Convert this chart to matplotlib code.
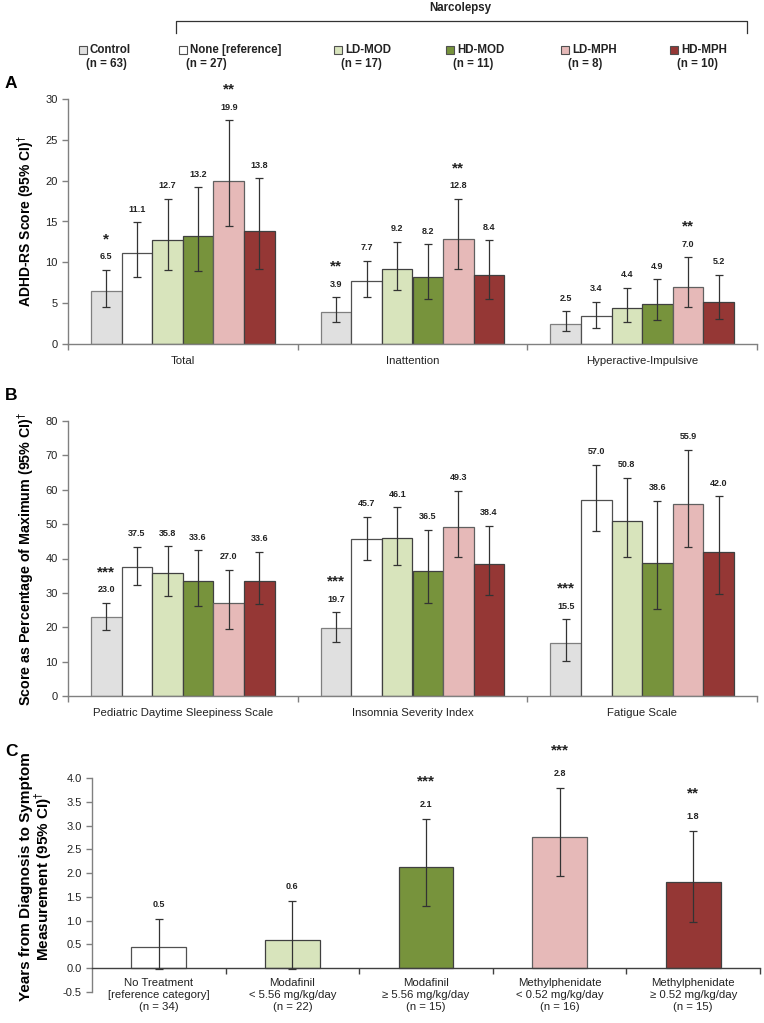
import numpy as np
import matplotlib
matplotlib.use('Agg')
import matplotlib.pyplot as plt
from matplotlib.patches import Rectangle
from matplotlib.lines import Line2D

plt.rcParams['font.family'] = ['Liberation Sans Narrow', 'Liberation Sans', 'DejaVu Sans']

# groups shown in panels A and B
groups = ['Control', 'None [reference]', 'LD-MOD', 'HD-MOD', 'LD-MPH', 'HD-MPH']
group_n = ['(n = 63)', '(n = 27)', '(n = 17)', '(n = 11)', '(n = 8)', '(n = 10)']
group_colors = ['#e0e0e0', '#ffffff', '#d8e4bc', '#77933c', '#e6b9b8', '#953735']
group_edges = ['#7f7f7f', '#505050', '#404040', '#404040', '#606060', '#404040']

# panel A: ADHD-RS
adhd_cats = ['Total', 'Inattention', 'Hyperactive-Impulsive']
adhd_mean = [[6.5, 11.1, 12.7, 13.2, 19.9, 13.8],
             [3.9, 7.7, 9.2, 8.2, 12.8, 8.4],
             [2.5, 3.4, 4.4, 4.9, 7.0, 5.2]]
adhd_lo = [[4.5, 8.2, 9.0, 8.9, 14.4, 9.2],
           [2.65, 5.7, 6.6, 5.5, 9.2, 5.5],
           [1.55, 2.0, 2.65, 2.9, 4.5, 3.0]]
adhd_hi = [[9.1, 14.9, 17.8, 19.2, 27.4, 20.3],
           [5.7, 10.2, 12.5, 12.2, 17.8, 12.7],
           [4.0, 5.2, 6.9, 7.9, 10.6, 8.5]]
adhd_sig = [['*', '', '', '', '**', ''],
            ['**', '', '', '', '**', ''],
            ['', '', '', '', '**', '']]

# panel B: sleep scales
sleep_cats = ['Pediatric Daytime Sleepiness Scale', 'Insomnia Severity Index', 'Fatigue Scale']
sleep_mean = [[23.0, 37.5, 35.8, 33.6, 27.0, 33.6],
              [19.7, 45.7, 46.1, 36.5, 49.3, 38.4],
              [15.5, 57.0, 50.8, 38.6, 55.9, 42.0]]
sleep_lo = [[19.3, 32.2, 29.2, 26.3, 19.6, 26.7],
            [15.8, 39.7, 38.2, 27.2, 40.3, 29.5],
            [10.1, 48.0, 40.4, 25.3, 43.3, 29.7]]
sleep_hi = [[27.1, 43.4, 43.5, 42.4, 36.8, 41.9],
            [24.3, 52.2, 54.9, 48.3, 59.6, 49.5],
            [22.3, 67.2, 63.4, 56.7, 71.6, 58.1]]
sleep_sig = [['***', '', '', '', '', ''],
             ['***', '', '', '', '', ''],
             ['***', '', '', '', '', '']]

# panel C: years from diagnosis
treat_labels = ['No Treatment\n[reference category]\n(n = 34)',
                'Modafinil\n< 5.56 mg/kg/day\n(n = 22)',
                'Modafinil\n\u2265 5.56 mg/kg/day\n(n = 15)',
                'Methylphenidate\n< 0.52 mg/kg/day\n(n = 16)',
                'Methylphenidate\n\u2265 0.52 mg/kg/day\n(n = 15)']
years = [0.45, 0.59, 2.12, 2.76, 1.81]
years_lo = [-0.01, -0.02, 1.30, 1.93, 0.98]
years_hi = [1.04, 1.41, 3.13, 3.78, 2.89]
years_sig = ['', '', '***', '***', '**']
treat_colors = ['#ffffff', '#d8e4bc', '#77933c', '#e6b9b8', '#953735']
treat_edges = ['#505050', '#404040', '#404040', '#606060', '#404040']

W, H = 764, 1023
def fx(px):
    return px / W
def fy(py):
    return 1 - py / H
def box(l, t, r, b):
    return [fx(l), fy(b), fx(r) - fx(l), fy(t) - fy(b)]

AXC = '#808080'
ERR = '#333333'
TXT = '#222222'

fig = plt.figure(figsize=(W / 100, H / 100), dpi=100)


def style_axes(ax):
    for s in ['top', 'right']:
        ax.spines[s].set_visible(False)
    for s in ['left', 'bottom']:
        ax.spines[s].set_color(AXC)
        ax.spines[s].set_linewidth(1.0)
    ax.tick_params(axis='both', which='major', colors=AXC, length=4, width=1.0,
                   labelcolor=TXT, labelsize=8)


def value_labels(ax, x, m, hi, sig, off_val, off_sig):
    for i in range(len(m)):
        ax.annotate('{:.1f}'.format(m[i]), (x[i], hi[i]), xytext=(0, off_val),
                    textcoords='offset points', ha='center', va='center',
                    fontsize=6.5, fontweight='bold', color=TXT)
        if sig[i]:
            ax.annotate(sig[i], (x[i], hi[i]), xytext=(0, off_sig),
                        textcoords='offset points', ha='center', va='center',
                        fontsize=11, fontweight='bold', color=TXT)


def grouped_panel(ax, cats, mean, lo, hi, sig, ymax, ystep, ylabel, lab_x, lab_size):
    w = 0.8 / len(groups)
    for c in range(len(cats)):
        m = np.array(mean[c])
        x = c + (np.arange(len(groups)) - (len(groups) - 1) / 2) * w
        ax.bar(x, m, width=w, color=group_colors, edgecolor=group_edges, linewidth=0.9, zorder=2)
        yerr = [m - np.array(lo[c]), np.array(hi[c]) - m]
        ax.errorbar(x, m, yerr=yerr, fmt='none', ecolor=ERR, elinewidth=0.9,
                    capsize=3, capthick=0.9, zorder=3)
        value_labels(ax, x, m, hi[c], sig[c], 9.5, 22)
    ax.set_xlim(-0.5, len(cats) - 0.5)
    ax.set_ylim(0, ymax)
    ax.set_yticks(np.arange(0, ymax + 0.01, ystep))
    ax.set_xticks(np.arange(-0.5, len(cats)))
    ax.set_xticklabels([])
    ax.set_xticks(range(len(cats)), minor=True)
    ax.set_xticklabels(cats, minor=True)
    style_axes(ax)
    ax.tick_params(axis='x', which='minor', length=0, pad=9, labelsize=8.2, labelcolor=TXT)
    ax.set_ylabel(ylabel, fontsize=lab_size, fontweight='bold')
    ax.yaxis.set_label_coords(lab_x, 0.5)


# Panel A
axA = fig.add_axes(box(68, 99, 757, 344))
grouped_panel(axA, adhd_cats, adhd_mean, adhd_lo, adhd_hi, adhd_sig, 30, 5,
              'ADHD-RS Score (95% CI)$^{\\dagger}$', (37 - 68) / 689, 10)

# Panel B
axB = fig.add_axes(box(68, 421, 757, 696))
grouped_panel(axB, sleep_cats, sleep_mean, sleep_lo, sleep_hi, sleep_sig, 80, 10,
              'Score as Percentage of Maximum (95% CI)$^{\\dagger}$', (37 - 68) / 689, 10.3)

# Panel C
axC = fig.add_axes(box(92, 778, 760, 992))
xc = np.arange(len(years))
yv = np.array(years)
axC.bar(xc, yv, width=0.41, color=treat_colors, edgecolor=treat_edges, linewidth=0.9, zorder=2)
axC.errorbar(xc, yv, yerr=[yv - np.array(years_lo), np.array(years_hi) - yv], fmt='none',
             ecolor=ERR, elinewidth=0.9, capsize=3, capthick=0.9, zorder=3)
value_labels(axC, xc, yv, years_hi, years_sig, 10.5, 27)
for i in range(len(years)):
    axC.text(xc[i], -0.21, treat_labels[i], ha='center', va='top', fontsize=8.2,
             color=TXT, linespacing=1.22)
axC.set_xlim(-0.5, len(years) - 0.5)
axC.set_ylim(-0.5, 4.0)
yt = np.arange(-0.5, 4.01, 0.5)
axC.set_yticks(yt)
axC.set_yticklabels(['{:.1f}'.format(v) for v in yt])
axC.spines['bottom'].set_position(('data', 0))
axC.set_xticks(np.arange(0.5, len(years)))
axC.set_xticklabels([])
style_axes(axC)
axC.spines['bottom'].set_color('#404040')
axC.tick_params(axis='x', colors='#404040')
axC.set_ylabel('Years from Diagnosis to Symptom\nMeasurement (95% CI)$^{\\dagger}$',
               fontsize=11, fontweight='bold', linespacing=0.95)
axC.yaxis.set_label_coords((54 - 92) / 668, 0.54)

# panel letters
for letter, py in [('A', 84), ('B', 395), ('C', 752)]:
    fig.text(fx(5), fy(py), letter, fontsize=12.5, fontweight='bold', va='center', ha='left')

# legend row
leg_x = [79, 179, 334, 446, 561, 670]
for i in range(len(groups)):
    fig.add_artist(Rectangle((fx(leg_x[i]), fy(54)), fx(8), 8 / H, transform=fig.transFigure,
                             facecolor=group_colors[i], edgecolor='#505050', linewidth=0.8))
    fig.text(fx(leg_x[i] + 11), fy(50), groups[i], fontsize=8.3, fontweight='bold',
             va='center', ha='left', color=TXT)
    fig.text(fx(leg_x[i] + 7), fy(64), group_n[i], fontsize=8.3, fontweight='bold',
             va='center', ha='left', color=TXT)

# narcolepsy bracket
fig.add_artist(Line2D([fx(176), fx(176), fx(747), fx(747)], [fy(33), fy(21), fy(21), fy(33)],
                      transform=fig.transFigure, color='#333333', linewidth=0.9))
fig.text(fx(460), fy(8), 'Narcolepsy', fontsize=8.3, fontweight='bold', ha='center', va='center',
         color=TXT)

plt.savefig('out.png', dpi=100)
